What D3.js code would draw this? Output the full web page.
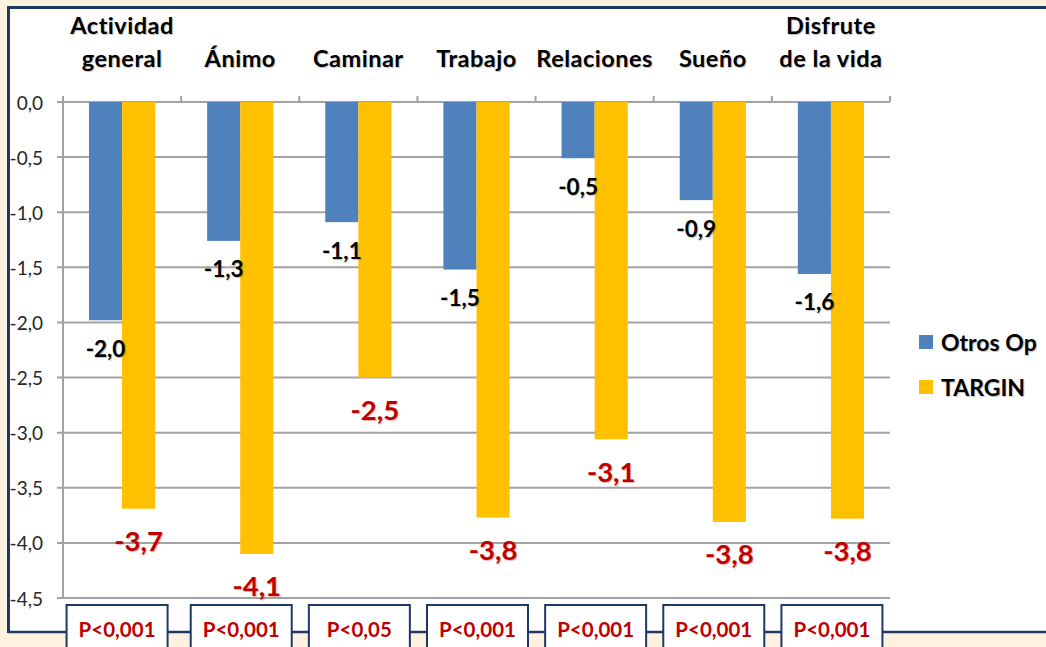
<!DOCTYPE html>
<html>
<head>
<meta charset="utf-8">
<script src="https://cdn.jsdelivr.net/npm/d3@7"></script>
<style>
  html, body { margin: 0; padding: 0; background: #fdf1df; }
  svg { display: block; }
  text { font-family: Lato, "Open Sans", "DejaVu Sans", sans-serif; }
</style>
</head>
<body>
<svg id="chart" width="1046" height="647"></svg>
<script>
// ---- data ----
const categories = ["Actividad general", "Ánimo", "Caminar", "Trabajo", "Relaciones", "Sueño", "Disfrute de la vida"];
const categoryLines = [["Actividad", "general"], ["Ánimo"], ["Caminar"], ["Trabajo"], ["Relaciones"], ["Sueño"], ["Disfrute", "de la vida"]];
const seriesNames = ["Otros Op", "TARGIN"];
const otrosOp = [-1.98, -1.26, -1.09, -1.52, -0.51, -0.89, -1.56];
const targin = [-3.69, -4.10, -2.50, -3.77, -3.06, -3.81, -3.78];
const pValues = ["P<0,001", "P<0,001", "P<0,05", "P<0,001", "P<0,001", "P<0,001", "P<0,001"];
const yTicks = [0, -0.5, -1, -1.5, -2, -2.5, -3, -3.5, -4, -4.5];

// ---- layout ----
const svg = d3.select("#chart");
const W = 1046, H = 647;
const pLeft = 63, pRight = 890, pTop = 102, pBottom = 598;
const colors = { "Otros Op": "#4f81bd", "TARGIN": "#ffc000" };
const navy = "#1f3864";
const grid = "#a3a3a3";
const fmt = v => d3.format(".1f")(v).replace("−", "-").replace(".", ",");

const x = d3.scaleBand().domain(categories).range([pLeft, pRight]).paddingInner(0).paddingOuter(0);
const xs = d3.scaleBand().domain(seriesNames).range([0, x.bandwidth()]).paddingInner(0).paddingOuter(0.7857);
const y = d3.scaleLinear().domain([0, -4.5]).range([pTop, pBottom]);

// background
svg.append("rect").attr("width", W).attr("height", H).attr("fill", "#fdf1df");
// white chart panel
svg.append("rect").attr("x", 8).attr("y", 7).attr("width", W).attr("height", 625).attr("fill", "#ffffff");

// gridlines (horizontal) + left ticks
svg.append("g").selectAll("line").data(yTicks).join("line")
  .attr("x1", pLeft - 6).attr("x2", pRight)
  .attr("y1", d => y(d)).attr("y2", d => y(d))
  .attr("stroke", grid).attr("stroke-width", 2);

// vertical axis line
svg.append("line").attr("x1", pLeft).attr("x2", pLeft).attr("y1", pTop - 6).attr("y2", pBottom)
  .attr("stroke", grid).attr("stroke-width", 2);

// top category tick marks
const boundaries = d3.range(categories.length + 1).map(i => pLeft + i * x.step());
svg.append("g").selectAll("line").data(boundaries).join("line")
  .attr("x1", d => d).attr("x2", d => d).attr("y1", pTop - 6).attr("y2", pTop)
  .attr("stroke", grid).attr("stroke-width", 2);

// y tick labels
svg.append("g").selectAll("text").data(yTicks).join("text")
  .attr("x", 43).attr("y", d => y(d))
  .attr("dominant-baseline", "central")
  .attr("text-anchor", "end")
  .attr("font-size", 19).attr("fill", "#262626")
  .text(d => fmt(d));

// bars
const rows = categories.map((c, i) => ({ cat: c, values: [
  { s: "Otros Op", v: otrosOp[i] }, { s: "TARGIN", v: targin[i] }] }));

const groups = svg.append("g").selectAll("g").data(rows).join("g")
  .attr("transform", d => `translate(${x(d.cat)},0)`);

groups.selectAll("rect").data(d => d.values).join("rect")
  .attr("x", d => xs(d.s))
  .attr("y", y(0))
  .attr("width", xs.bandwidth())
  .attr("height", d => y(d.v) - y(0))
  .attr("fill", d => colors[d.s]);

// value labels
const shadow = "1px 1px 1px rgba(0,0,0,0.25)";
groups.selectAll("text.val").data(d => d.values).join("text")
  .attr("class", "val")
  .attr("x", d => xs(d.s) + xs.bandwidth() / 2)
  .attr("y", d => y(d.v) + (d.s === "TARGIN" ? 32 : 28))
  .attr("dominant-baseline", "central")
  .attr("text-anchor", "middle")
  .attr("font-weight", "bold")
  .attr("font-size", d => d.s === "TARGIN" ? 27.5 : 22.5)
  .attr("fill", d => d.s === "TARGIN" ? "#c00000" : "#000000")
  .style("text-shadow", d => d.s === "TARGIN" ? "1px 1px 1px rgba(192,0,0,0.3)" : shadow)
  .text(d => fmt(d.v));

// category labels on top
const catG = svg.append("g").selectAll("text").data(categories).join("text")
  .attr("text-anchor", "middle")
  .attr("font-weight", "bold")
  .attr("font-size", 23.5)
  .attr("letter-spacing", 0.5)
  .attr("fill", "#000")
  .style("text-shadow", shadow)
  .attr("x", d => x(d) + x.bandwidth() / 2);
catG.each(function(d, i) {
  const lines = categoryLines[i];
  const sel = d3.select(this);
  lines.forEach((ln, j) => {
    const baseline = 67 - (lines.length - 1 - j) * 33;
    sel.append("tspan").attr("x", x(d) + x.bandwidth() / 2).attr("y", baseline).text(ln);
  });
});

// bottom border line connecting p boxes
svg.append("line").attr("x1", 8).attr("x2", W).attr("y1", 632).attr("y2", 632)
  .attr("stroke", navy).attr("stroke-width", 2.5);

// p-value boxes
const pg = svg.append("g").selectAll("g").data(categories).join("g")
  .attr("transform", (d, i) => `translate(${x(d) + x.bandwidth() / 2 + (i === 0 ? -5 : 1)},0)`);
pg.append("rect").attr("x", -50.5).attr("y", 605).attr("width", 101).attr("height", 60)
  .attr("fill", "#fff").attr("stroke", navy).attr("stroke-width", 2);
pg.append("text").attr("x", 0).attr("y", 637)
  .attr("text-anchor", "middle").attr("font-weight", "bold").attr("font-size", 20.5)
  .attr("fill", "#c00000")
  .text((d, i) => pValues[i]);

// chart border (top, left)
svg.append("line").attr("x1", 8).attr("x2", W).attr("y1", 7.5).attr("y2", 7.5)
  .attr("stroke", navy).attr("stroke-width", 3);
svg.append("line").attr("x1", 8.5).attr("x2", 8.5).attr("y1", 6).attr("y2", 633)
  .attr("stroke", navy).attr("stroke-width", 3);

// legend
const lg = svg.append("g").selectAll("g").data(seriesNames).join("g")
  .attr("transform", (d, i) => `translate(919,${335 + i * 45})`);
lg.append("rect").attr("width", 14).attr("height", 14).attr("fill", d => colors[d]);
lg.append("text").attr("x", 22).attr("y", 7).attr("dominant-baseline", "central")
  .attr("font-weight", "bold").attr("font-size", 23).attr("fill", "#000")
  .style("text-shadow", shadow)
  .text(d => d);
</script>
</body>
</html>
